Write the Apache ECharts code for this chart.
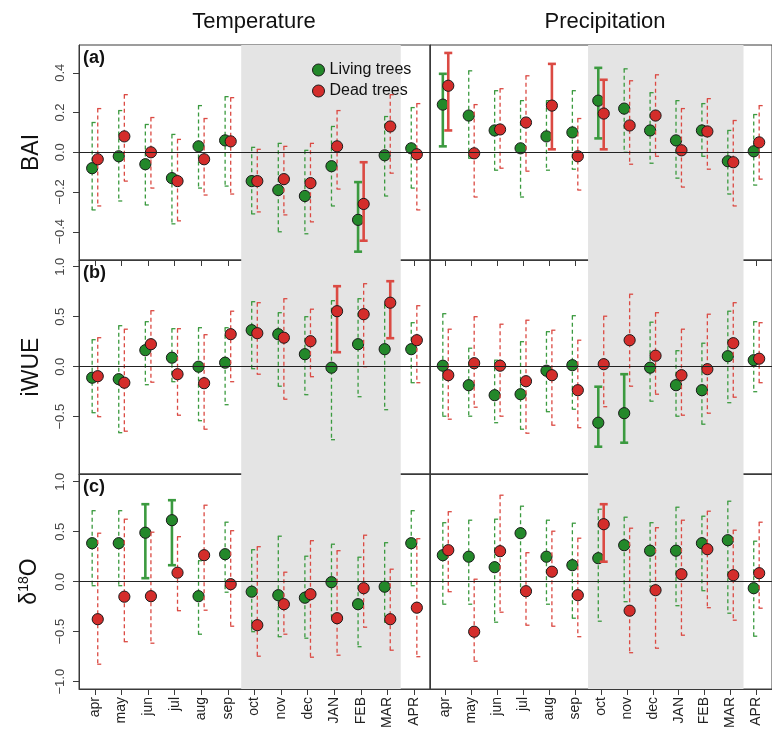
<!DOCTYPE html>
<html>
<head>
<meta charset="utf-8">
<script src="https://cdn.jsdelivr.net/npm/echarts@6/dist/echarts.min.js"></script>
<style>
  html, body { margin: 0; padding: 0; background: #fff; }
  #chart { width: 772px; height: 734px; }
</style>
</head>
<body>
<div id="chart"></div>
<script>
const months = ["apr", "may", "jun", "jul", "aug", "sep", "oct", "nov", "dec", "JAN", "FEB", "MAR", "APR"];
const columnTitles = ["Temperature", "Precipitation"];
const rowNames = ["BAI", "iWUE", "δ18O"];
const rowTags = ["(a)", "(b)", "(c)"];
const legendNames = ["Living trees", "Dead trees"];

// [estimate, lower, upper] per month
const baiTempLiving = [[-0.08,-0.29,0.15],[-0.02,-0.245,0.21],[-0.06,-0.265,0.14],[-0.13,-0.36,0.09],[0.03,-0.18,0.235],[0.06,-0.17,0.28],[-0.145,-0.31,0.025],[-0.19,-0.40,0.045],[-0.22,-0.41,0.01],[-0.07,-0.27,0.13],[-0.34,-0.50,-0.15],[-0.015,-0.22,0.18],[0.02,-0.18,0.225]];
const baiTempDead = [[-0.035,-0.27,0.22],[0.08,-0.145,0.29],[0.0,-0.18,0.175],[-0.145,-0.345,0.065],[-0.035,-0.215,0.17],[0.055,-0.21,0.275],[-0.145,-0.30,0.015],[-0.135,-0.315,0.03],[-0.155,-0.35,0.045],[0.03,-0.185,0.21],[-0.26,-0.445,-0.05],[0.13,-0.105,0.29],[-0.01,-0.29,0.245]];
const baiPrecLiving = [[0.24,0.03,0.395],[0.185,-0.03,0.41],[0.11,-0.09,0.31],[0.02,-0.225,0.26],[0.08,-0.09,0.26],[0.10,-0.085,0.31],[0.26,0.07,0.425],[0.22,0.0,0.42],[0.11,-0.055,0.30],[0.06,-0.13,0.26],[0.11,-0.02,0.245],[-0.045,-0.21,0.11],[0.005,-0.165,0.19]];
const baiPrecDead = [[0.335,0.11,0.50],[-0.005,-0.225,0.24],[0.115,-0.08,0.32],[0.15,-0.095,0.385],[0.235,0.015,0.445],[-0.02,-0.19,0.17],[0.195,0.015,0.365],[0.135,-0.06,0.36],[0.185,-0.02,0.39],[0.01,-0.175,0.22],[0.105,-0.085,0.27],[-0.05,-0.27,0.16],[0.05,-0.135,0.235]];

const wueTempLiving = [[-0.11,-0.46,0.27],[-0.125,-0.66,0.41],[0.165,-0.18,0.45],[0.09,-0.15,0.38],[0.0,-0.54,0.39],[0.04,-0.38,0.39],[0.365,-0.02,0.65],[0.325,-0.195,0.54],[0.125,-0.28,0.50],[-0.01,-0.73,0.66],[0.225,-0.30,0.68],[0.175,-0.43,0.62],[0.175,-0.16,0.44]];
const wueTempDead = [[-0.095,-0.50,0.29],[-0.16,-0.645,0.375],[0.225,-0.155,0.56],[-0.075,-0.485,0.38],[-0.165,-0.625,0.32],[0.325,-0.15,0.555],[0.335,-0.075,0.64],[0.29,-0.325,0.68],[0.255,-0.10,0.575],[0.555,0.145,0.805],[0.525,0.0,0.83],[0.64,0.285,0.855],[0.265,-0.16,0.61]];
const wuePrecLiving = [[0.01,-0.495,0.53],[-0.185,-0.495,0.185],[-0.285,-0.56,0.065],[-0.275,-0.625,0.25],[-0.04,-0.45,0.35],[0.015,-0.425,0.51],[-0.56,-0.80,-0.20],[-0.465,-0.76,-0.075],[-0.01,-0.345,0.445],[-0.185,-0.495,0.16],[-0.235,-0.575,0.235],[0.105,-0.36,0.555],[0.065,-0.25,0.45]];
const wuePrecDead = [[-0.085,-0.525,0.375],[0.035,-0.405,0.50],[0.01,-0.495,0.425],[-0.145,-0.665,0.465],[-0.085,-0.585,0.365],[-0.235,-0.61,0.265],[0.025,-0.40,0.505],[0.265,-0.195,0.725],[0.11,-0.275,0.54],[-0.085,-0.485,0.375],[-0.025,-0.465,0.525],[0.235,-0.305,0.64],[0.08,-0.16,0.44]];

const d18oTempLiving = [[0.385,-0.04,0.71],[0.385,-0.04,0.71],[0.49,0.035,0.775],[0.615,0.165,0.815],[-0.145,-0.525,0.21],[0.275,-0.105,0.595],[-0.10,-0.50,0.32],[-0.135,-0.55,0.455],[-0.16,-0.565,0.255],[-0.005,-0.35,0.375],[-0.225,-0.65,0.245],[-0.05,-0.405,0.39],[0.385,-0.04,0.71]];
const d18oTempDead = [[-0.375,-0.825,0.485],[-0.15,-0.60,0.625],[-0.145,-0.615,0.495],[0.09,-0.29,0.45],[0.265,-0.285,0.765],[-0.025,-0.445,0.51],[-0.435,-0.745,0.35],[-0.225,-0.525,0.095],[-0.125,-0.755,0.41],[-0.365,-0.735,0.31],[-0.065,-0.455,0.465],[-0.375,-0.685,0.125],[-0.26,-0.75,0.43]];
const d18oPrecLiving = [[0.265,-0.225,0.59],[0.25,-0.225,0.615],[0.145,-0.405,0.625],[0.485,-0.085,0.755],[0.25,-0.225,0.615],[0.165,-0.365,0.585],[0.235,-0.395,0.725],[0.365,-0.20,0.645],[0.31,-0.045,0.59],[0.31,-0.24,0.745],[0.385,-0.09,0.655],[0.415,-0.315,0.805],[-0.065,-0.545,0.405]];
const d18oPrecDead = [[0.315,-0.10,0.70],[-0.50,-0.795,0.025],[0.305,-0.305,0.865],[-0.095,-0.435,0.29],[0.10,-0.445,0.505],[-0.135,-0.55,0.435],[0.575,0.20,0.775],[-0.29,-0.71,0.535],[-0.085,-0.665,0.54],[0.075,-0.535,0.615],[0.325,-0.26,0.705],[0.065,-0.385,0.515],[0.085,-0.265,0.595]];

// months whose interval is drawn solid (significant)
const baiTempLivingSig = [10], baiTempDeadSig = [10];
const baiPrecLivingSig = [0, 6], baiPrecDeadSig = [0, 4, 6];
const wueTempLivingSig = [], wueTempDeadSig = [9, 11];
const wuePrecLivingSig = [6, 7], wuePrecDeadSig = [];
const d18oTempLivingSig = [2, 3], d18oTempDeadSig = [];
const d18oPrecLivingSig = [], d18oPrecDeadSig = [6];

const yTicks = [[-0.4, -0.2, 0, 0.2, 0.4], [-0.5, 0, 0.5, 1], [-1, -0.5, 0, 0.5, 1]];
const winterFrom = 6, winterTo = 11;

const panels = [
  [baiTempLiving, baiTempDead, baiTempLivingSig, baiTempDeadSig],
  [baiPrecLiving, baiPrecDead, baiPrecLivingSig, baiPrecDeadSig],
  [wueTempLiving, wueTempDead, wueTempLivingSig, wueTempDeadSig],
  [wuePrecLiving, wuePrecDead, wuePrecLivingSig, wuePrecDeadSig],
  [d18oTempLiving, d18oTempDead, d18oTempLivingSig, d18oTempDeadSig],
  [d18oPrecLiving, d18oPrecDead, d18oPrecLivingSig, d18oPrecDeadSig]
];

const GREEN = "#23882a", RED = "#d42d2b";
const GREEN_BAR = "#3b9a3f", RED_BAR = "#db4a43";
const AXIS = "#3a3a3a";
const rowTop = [45, 260, 474], rowH = [215, 214, 215];
const colLeft = [79, 430], colW = 351;
const yRange = [[-0.542, 0.54], [-1.073, 1.067], [-1.073, 1.077]];
const FONT = "Liberation Sans, Arial, sans-serif";

const fmt = v => (Math.abs(v) < 1e-9 ? "0.0" : v.toFixed(1).replace("-", "\u2212"));

function makeRender(shift, ptColor, barColor) {
  return function (params, api) {
    const i = api.value(0);
    const dx = api.size([1, 0])[0] * shift;
    const c = api.coord([i, api.value(1)]);
    const lo = api.coord([i, api.value(2)]);
    const hi = api.coord([i, api.value(3)]);
    const x = c[0] + dx;
    const sig = api.value(4) === 1;
    const kids = [];
    if (sig) {
      const st = { stroke: barColor, lineWidth: 2.6 };
      kids.push({ type: "line", shape: { x1: x, y1: hi[1], x2: x, y2: lo[1] }, style: st });
      kids.push({ type: "line", shape: { x1: x - 4, y1: hi[1], x2: x + 4, y2: hi[1] }, style: st });
      kids.push({ type: "line", shape: { x1: x - 4, y1: lo[1], x2: x + 4, y2: lo[1] }, style: st });
    } else {
      const st = { stroke: barColor, lineWidth: 1.3, lineDash: [4, 3] };
      kids.push({ type: "line", shape: { x1: x, y1: hi[1], x2: x, y2: lo[1] }, style: st });
      const cs = { stroke: barColor, lineWidth: 1.3 };
      kids.push({ type: "line", shape: { x1: x - 0.5, y1: hi[1], x2: x + 3.5, y2: hi[1] }, style: cs });
      kids.push({ type: "line", shape: { x1: x - 0.5, y1: lo[1], x2: x + 3.5, y2: lo[1] }, style: cs });
    }
    kids.push({ type: "circle", shape: { cx: x, cy: c[1], r: 5.6 }, style: { fill: ptColor, stroke: "#1a1a1a", lineWidth: 1 } });
    return { type: "group", children: kids };
  };
}

const grid = [], xAxis = [], yAxis = [], series = [];
panels.forEach((p, k) => {
  const row = Math.floor(k / 2), col = k % 2;
  grid.push({ left: colLeft[col], top: rowTop[row], width: colW, height: rowH[row],
    show: true, borderColor: AXIS, borderWidth: 1, backgroundColor: "transparent" });
  const monthIdx = months.map((m, i) => i);
  xAxis.push({
    type: "value", gridIndex: k, min: -0.6, max: 12.6, position: "bottom",
    splitLine: { show: false }, axisLine: { show: true, onZero: false, lineStyle: { color: AXIS } },
    axisTick: { show: row !== 1, length: 6, inside: false, customValues: monthIdx, lineStyle: { color: AXIS, width: 1 } },
    axisLabel: { show: row === 2, customValues: monthIdx, rotate: 90, margin: 8, fontSize: 14,
      color: "#222", fontFamily: FONT, formatter: v => months[Math.round(v)] }
  });
  const isRich = row === 2;
  yAxis.push({
    type: "value", gridIndex: k, min: yRange[row][0], max: yRange[row][1], position: "left",
    splitLine: { show: false }, axisLine: { show: true, onZero: false, lineStyle: { color: AXIS } },
    axisTick: { show: col === 0, length: 6, customValues: yTicks[row], lineStyle: { color: AXIS, width: 1 } },
    axisLabel: { show: col === 0, customValues: yTicks[row], rotate: 90, margin: 12, fontSize: 13,
      color: "#444", fontFamily: FONT, formatter: fmt },
    name: col === 0 ? (isRich ? "{a|δ}{s|18}{a|O}" : rowNames[row]) : "",
    nameLocation: "middle", nameRotate: 90, nameGap: 36,
    nameTextStyle: { fontSize: 23, color: "#111", fontFamily: FONT,
      rich: { a: { fontSize: 23, fontFamily: FONT, color: "#111" },
              s: { fontSize: 14, fontFamily: FONT, color: "#111", verticalAlign: "top", padding: [0, 0, 12, 0] } } }
  });
  series.push({
    type: "line", xAxisIndex: k, yAxisIndex: k, z: -1, silent: true,
    data: [[-0.6, 0]], symbol: "none", lineStyle: { opacity: 0 },
    markArea: { silent: true, itemStyle: { color: "#e4e4e4" },
      data: [[{ xAxis: winterFrom - 0.5 }, { xAxis: winterTo + 0.5 }]] },
    markLine: { silent: true, symbol: "none", label: { show: false },
      lineStyle: { color: "#222", width: 1, type: "solid" }, data: [{ yAxis: 0 }] }
  });
  [[p[0], p[2], -0.105, GREEN, GREEN_BAR, legendNames[0]], [p[1], p[3], 0.105, RED, RED_BAR, legendNames[1]]]
    .forEach(([vals, sig, shift, pc, bc, name]) => {
      series.push({
        type: "custom", name: name, xAxisIndex: k, yAxisIndex: k, z: 3,
        itemStyle: { color: pc },
        encode: { x: 0, y: 1 },
        renderItem: makeRender(shift, pc, bc),
        data: vals.map((v, i) => [i, v[0], v[1], v[2], sig.indexOf(i) >= 0 ? 1 : 0])
      });
    });
});

const graphic = [];
columnTitles.forEach((t, col) => {
  graphic.push({ type: "text", x: colLeft[col] + 175, y: 22,
    style: { text: t, fontSize: 22, fontFamily: FONT, fill: "#111", align: "center", verticalAlign: "middle" } });
});
rowTags.forEach((t, row) => {
  graphic.push({ type: "text", x: 83, y: rowTop[row] + 13,
    style: { text: t, fontSize: 18, fontWeight: "bold", fontFamily: FONT, fill: "#111", verticalAlign: "middle" } });
});

const chart = echarts.init(document.getElementById("chart"), null, { renderer: "canvas" });
chart.setOption({
  animation: false,
  textStyle: { fontFamily: FONT },
  grid: grid,
  xAxis: xAxis,
  yAxis: yAxis,
  legend: {
    orient: "vertical", left: 307, top: 57, itemWidth: 12, itemHeight: 12, itemGap: 5,
    textStyle: { fontSize: 16, color: "#111", fontFamily: FONT },
    data: [
      { name: legendNames[0], icon: "circle", itemStyle: { color: GREEN, borderColor: "#1a1a1a", borderWidth: 1 } },
      { name: legendNames[1], icon: "circle", itemStyle: { color: RED, borderColor: "#1a1a1a", borderWidth: 1 } }
    ]
  },
  graphic: graphic,
  series: series
});
</script>
</body>
</html>
